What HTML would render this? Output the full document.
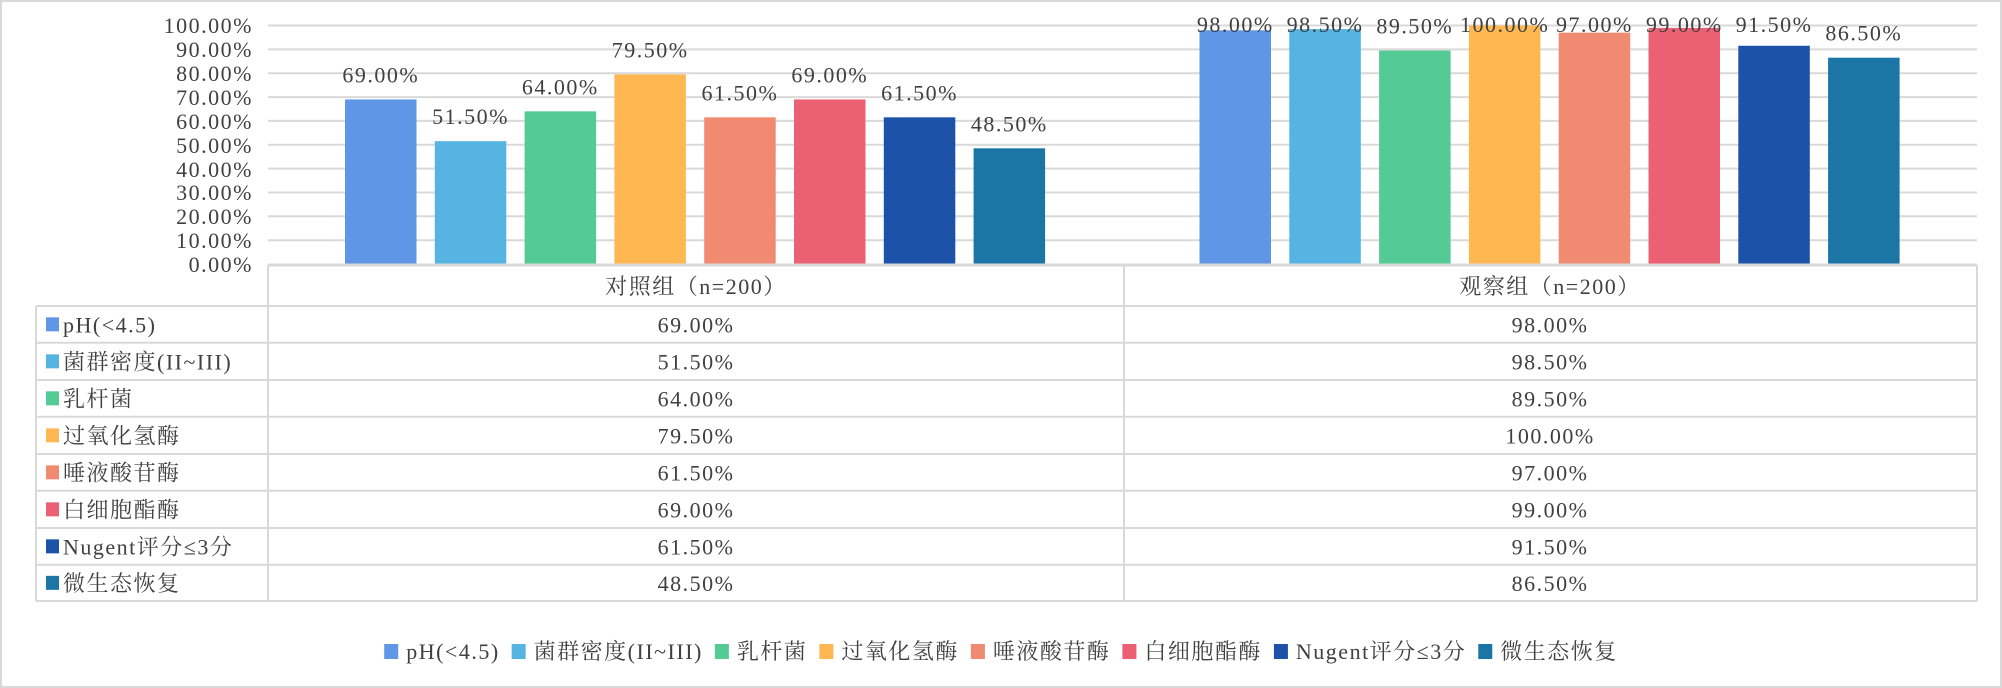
<!DOCTYPE html>
<html><head><meta charset="utf-8"><style>
html,body{margin:0;padding:0;background:#fff;}
svg{display:block;}
text{font-family:"Liberation Serif","Noto Serif CJK SC",serif;font-size:22px;fill:#404040;letter-spacing:1.5px;}
</style></head><body>
<svg width="2002" height="688" viewBox="0 0 2002 688" xmlns="http://www.w3.org/2000/svg">
<rect x="1" y="1" width="2000" height="686" fill="#fff" stroke="#d9d9d9" stroke-width="2"/>
<g stroke="#d9d9d9" stroke-width="2">
<line x1="268" x2="1977" y1="25.5" y2="25.5"/>
<line x1="268" x2="1977" y1="49.4" y2="49.4"/>
<line x1="268" x2="1977" y1="73.2" y2="73.2"/>
<line x1="268" x2="1977" y1="97.1" y2="97.1"/>
<line x1="268" x2="1977" y1="120.9" y2="120.9"/>
<line x1="268" x2="1977" y1="144.8" y2="144.8"/>
<line x1="268" x2="1977" y1="168.6" y2="168.6"/>
<line x1="268" x2="1977" y1="192.5" y2="192.5"/>
<line x1="268" x2="1977" y1="216.3" y2="216.3"/>
<line x1="268" x2="1977" y1="240.2" y2="240.2"/>
</g>
<g text-anchor="end">
<text x="253" y="33">100.00%</text><text x="253" y="57">90.00%</text><text x="253" y="81">80.00%</text><text x="253" y="105">70.00%</text><text x="253" y="129">60.00%</text><text x="253" y="153">50.00%</text><text x="253" y="177">40.00%</text><text x="253" y="200">30.00%</text><text x="253" y="224">20.00%</text><text x="253" y="248">10.00%</text><text x="253" y="272">0.00%</text>
</g>
<g id="bars"></g>
<g stroke="#d9d9d9" stroke-width="2" fill="none">
<line x1="268" x2="1977" y1="265" y2="265" stroke-width="3"/>
<line x1="36" x2="1977" y1="306" y2="306"/>
<line x1="36" x2="1977" y1="342.7" y2="342.7"/>
<line x1="36" x2="1977" y1="380" y2="380"/>
<line x1="36" x2="1977" y1="416.7" y2="416.7"/>
<line x1="36" x2="1977" y1="454" y2="454"/>
<line x1="36" x2="1977" y1="490.7" y2="490.7"/>
<line x1="36" x2="1977" y1="528" y2="528"/>
<line x1="36" x2="1977" y1="564.7" y2="564.7"/>
<line x1="36" x2="1977" y1="601" y2="601"/>
<line x1="36" x2="36" y1="306" y2="601"/>
<line x1="268" x2="268" y1="265" y2="601"/>
<line x1="1124" x2="1124" y1="265" y2="601"/>
<line x1="1977" x2="1977" y1="265" y2="601"/>
</g>
<g text-anchor="middle">
<text x="696" y="294">对照组（n=200）</text>
<text x="1550" y="294">观察组（n=200）</text>
</g>
<g id="rows"></g>
<g id="legend"></g>
<script>
var ns="http://www.w3.org/2000/svg";
var names=["pH(<4.5)","菌群密度(II~III)","乳杆菌","过氧化氢酶","唾液酸苷酶","白细胞酯酶","Nugent评分≤3分","微生态恢复"];
var cols=["#6096e6","#56b4e3","#54ca95","#ffb851","#f08a70","#ec6074","#1c52a8","#1b76a6"];
var a=[69,51.5,64,79.5,61.5,69,61.5,48.5],b=[98,98.5,89.5,100,97,99,91.5,86.5];
function el(t,attrs,txt,p){var e=document.createElementNS(ns,t);for(var k in attrs)e.setAttribute(k,attrs[k]);if(txt!=null)e.textContent=txt;p.appendChild(e);return e;}
var g=document.getElementById("bars");
[a,b].forEach(function(d,gi){
 var start=268+gi*854.5+77;
 d.forEach(function(v,i){
  var x=start+i*89.8,top=264-v/100*238.5;
  el("rect",{x:x,y:top,width:71.5,height:264-top,fill:cols[i]},null,g);
  var bl=Math.max(top-17,32);
  el("text",{x:x+35.75,y:bl,"text-anchor":"middle"},v.toFixed(2)+"%",g);
 });
});
var r=document.getElementById("rows");
var lines=[306,342.7,380,416.7,454,490.7,528,564.7,601];
for(var i=0;i<8;i++){
 var cy=(lines[i]+lines[i+1])/2;
 el("rect",{x:46,y:cy-7,width:13,height:14,fill:cols[i]},null,r);
 el("text",{x:63,y:cy+8},names[i],r);
 el("text",{x:696,y:cy+8,"text-anchor":"middle"},a[i].toFixed(2)+"%",r);
 el("text",{x:1550,y:cy+8,"text-anchor":"middle"},b[i].toFixed(2)+"%",r);
}
var L=document.getElementById("legend");
var x=340,cy=651;
names.forEach(function(n,i){
 el("rect",{x:x,y:cy-7,width:14,height:15,fill:cols[i]},null,L);
 var t=el("text",{x:x+22,y:cy+8},n,L);
 var w=t.getComputedTextLength();
 x+=22+w+12;
});
var W=x-12-340;
var shift=(2002-W)/2-340;
L.setAttribute("transform","translate("+shift+",0)");
</script>
</svg>
</body></html>
